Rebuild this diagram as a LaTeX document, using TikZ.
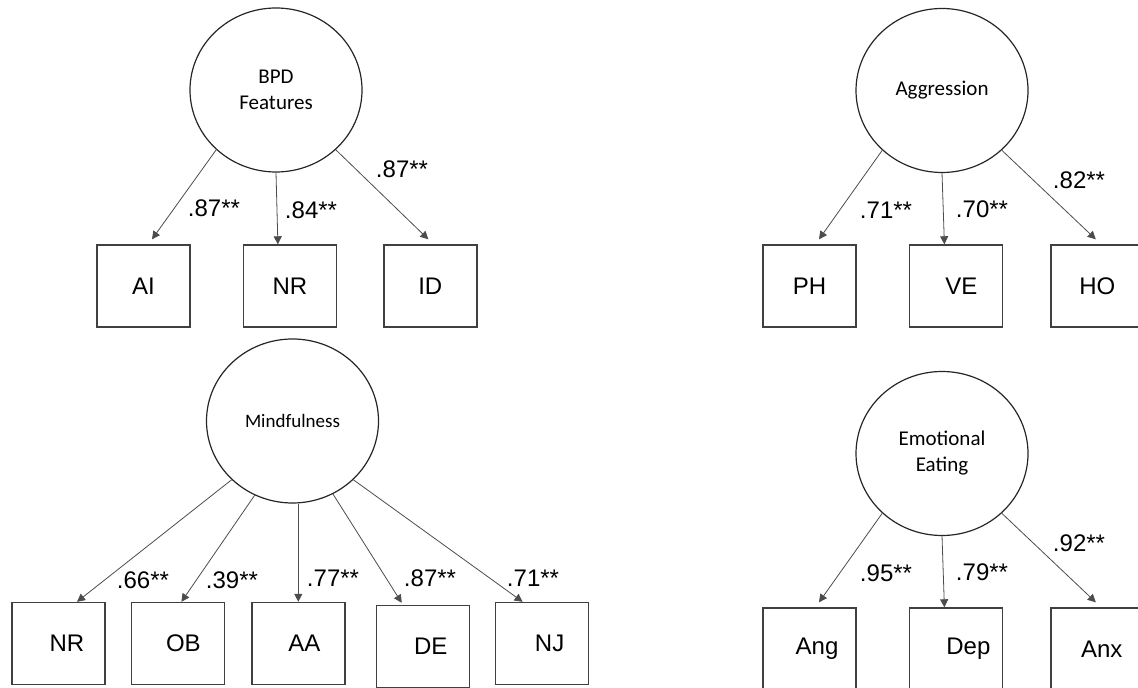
\documentclass[tikz,border=0pt]{standalone}
\usepackage{fontspec}
\setmainfont{Liberation Sans}
\newfontfamily\calib{Carlito}
\usepackage{tikz}
\usetikzlibrary{arrows.meta,positioning,shapes.geometric}
\tikzset{
  latent/.style={
    ellipse,
    draw=black!85,
    line width=0.6pt,
    minimum width=86pt,
    minimum height=82pt,
    inner sep=0pt,
    align=center,
    font=\calib\fontsize{10.5}{13}\selectfont
  },
  obsbox/.style={
    rectangle,
    draw=black!75,
    line width=0.7pt,
    minimum width=46.5pt,
    minimum height=41pt,
    inner sep=0pt,
    font=\fontsize{12}{14}\selectfont
  },
  nudge/.style={execute at begin node=\hspace*{#1}},
  coef/.style={
    inner sep=0pt,
    font=\fontsize{12}{14}\selectfont
  },
  load/.style={
    -{Triangle[length=4pt,width=4pt]},
    line width=0.4pt,
    draw=black!70
  }
}

\begin{document}
\begin{tikzpicture}[x=0.5pt,y=-0.5pt]
\useasboundingbox (0,0) rectangle (1138,688);

\node[latent] (bpd) at (276,90) {BPD\\Features};
\node[obsbox] (ai) at (143.5,286) {AI};
\node[obsbox, right=26pt of ai] (nr) {NR};
\node[obsbox, right=23pt of nr] (id) {ID};
\draw[load] (bpd.225) -- ([xshift=4.25pt,yshift=2.5pt]ai.north);
\draw[load] (bpd.south) -- ([xshift=-6pt]nr.north);
\draw[load] (bpd.315) -- ([xshift=-1pt,yshift=2.5pt]id.north);
\node[coef] (w-ai) at (214,208) {.87**};
\node[coef] (w-nr) at (311,210) {.84**};
\node[coef] (w-id) at (402,169) {.87**};

\node[latent] (agg) at (942,90.5) {Aggression};
\node[obsbox] (ph) at (809.5,286) {PH};
\node[obsbox, nudge=5.5pt, right=26pt of ph] (ve) {VE};
\node[obsbox, right=23.5pt of ve] (ho) {HO};
\draw[load] (agg.225) -- ([xshift=4.75pt,yshift=2.5pt]ph.north);
\draw[load] (agg.south) -- ([xshift=-5.75pt]ve.north);
\draw[load] (agg.315) -- ([xshift=-0.75pt,yshift=2.5pt]ho.north);
\node[coef] (w-ph) at (886,210) {.71**};
\node[coef] (w-ve) at (982,209) {.70**};
\node[coef] (w-ho) at (1079,180) {.82**};

\node[latent, font=\calib\fontsize{9.5}{11}\selectfont] (mind) at (292.5,421) {Mindfulness};
\node[obsbox, nudge=8.5pt] (nrm) at (58.5,643.5) {NR};
\node[obsbox, nudge=5.5pt, right=12.5pt of nrm] (ob) {OB};
\node[obsbox, nudge=6pt, right=13pt of ob] (aa) {AA};
\node[obsbox, nudge=8pt, right=15pt of aa, yshift=-1.5pt] (de) {DE};
\node[obsbox, nudge=7.5pt, right=12.5pt of de, yshift=1.5pt] (nj) {NJ};
\draw[load] (mind.224) -- ([xshift=9.25pt]nrm.north);
\draw[load] (mind.243) -- ([xshift=1.75pt]ob.north);
\draw[load] (aa.north |- mind.south) -- (aa.north);
\draw[load] (mind.299) -- ([xshift=-10.5pt,yshift=1pt]de.north);
\draw[load] (mind.316) -- ([xshift=-9.75pt]nj.north);
\node[coef] (w-nrm) at (143,580) {.66**};
\node[coef] (w-ob) at (232,580) {.39**};
\node[coef] (w-aa) at (333,578) {.77**};
\node[coef] (w-de) at (430,578) {.87**};
\node[coef] (w-nj) at (533,578) {.71**};

\node[latent] (emo) at (942,453.5) {Emotional\\Eating};
\node[obsbox, nudge=7.5pt] (ang) at (809.5,649) {Ang};
\node[obsbox, nudge=12.5pt, right=26pt of ang] (dep) {Dep};
\node[obsbox, nudge=4.5pt, right=23.5pt of dep] (anx) {Anx};
\draw[load] (emo.225) -- ([xshift=4.75pt,yshift=2.5pt]ang.north);
\draw[load] (emo.south) -- ([xshift=-5.75pt]dep.north);
\draw[load] (emo.315) -- ([xshift=-0.75pt,yshift=2.5pt]anx.north);
\node[coef] (w-ang) at (886,573) {.95**};
\node[coef] (w-dep) at (982,572) {.79**};
\node[coef] (w-anx) at (1079,543) {.92**};
\end{tikzpicture}
\end{document}
